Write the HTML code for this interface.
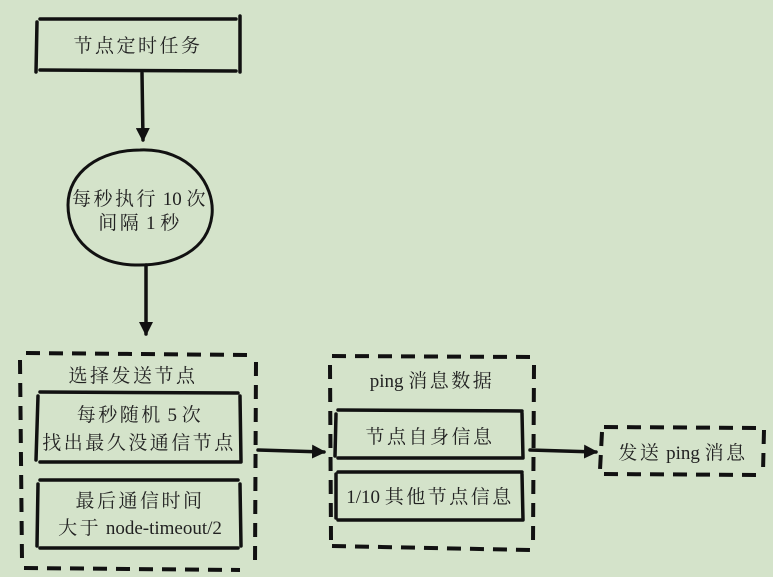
<!DOCTYPE html>
<html><head><meta charset="utf-8"><style>
html,body{margin:0;padding:0;background:#d4e3ca;}
svg{display:block}
text{font-family:"Liberation Serif","Noto Serif CJK SC",serif;font-size:19px;fill:#222;text-anchor:middle;letter-spacing:2.5px}
.l{letter-spacing:0}
</style></head><body>
<svg width="773" height="577" viewBox="0 0 773 577">
<rect width="773" height="577" fill="#d4e3ca"/>
<defs><marker id="a" markerWidth="14" markerHeight="14" refX="12" refY="7" orient="auto" markerUnits="userSpaceOnUse"><path d="M0,0 L14,7 L0,14 Z" fill="#111"/></marker></defs>
<g stroke="#111" fill="none" stroke-width="3.5" stroke-linecap="round">
<path d="M40,19 L236,19 M40,70 L236,71 M37,22 L36,72 M240,16 L240,72"/>
<path d="M142,73 L143,140" marker-end="url(#a)"/>
<path d="M146,265 L146,334" marker-end="url(#a)"/>
<path d="M258,450 L324,452" marker-end="url(#a)"/>
<path d="M530,450 L596,452" marker-end="url(#a)"/>
<path d="M140,150 C190,148 215,185 212,215 C208,250 175,266 135,265 C95,264 68,240 68,205 C68,172 100,150 140,150 Z" stroke-width="3"/>
<path d="M40,392 L238,393 M40,462 L240,462 M38,396 L36,460 M240,396 L241,462"/>
<path d="M40,480 L238,480 M40,548 L238,548 M38,484 L37,546 M240,484 L241,546"/>
<path d="M338,410 L522,411 M338,458 L522,458 M336,414 L335,456 M522,413 L523,458"/>
<path d="M338,472 L522,472 M338,520 L522,520 M336,474 L336,518 M522,474 L523,520"/>
</g>
<g stroke="#111" fill="none" stroke-width="4" stroke-dasharray="14,9">
<path d="M26,353 L248,355 M24,568 L240,570 M20,360 L22,560 M256,362 L255,565"/>
<path d="M332,356 L530,357 M332,546 L530,550 M330,365 L331,540 M534,365 L533,545"/>
<path d="M604,427 L762,428 M604,474 L762,475 M602,432 L600,470 M764,430 L763,472"/>
</g>
<text x="138" y="52">节点定时任务</text>
<text x="140" y="205">每秒执行<tspan class="l"> 10 </tspan>次</text>
<text x="140" y="229">间隔<tspan class="l"> 1 </tspan>秒</text>
<text x="133" y="382">选择发送节点</text>
<text x="140" y="421">每秒随机<tspan class="l"> 5 </tspan>次</text>
<text x="139" y="449">找出最久没通信节点</text>
<text x="140" y="507">最后通信时间</text>
<text x="140" y="534">大于<tspan class="l"> node-timeout/2</tspan></text>
<text x="432" y="387"><tspan class="l">ping </tspan>消息数据</text>
<text x="430" y="443">节点自身信息</text>
<text x="430" y="503"><tspan class="l">1/10 </tspan>其他节点信息</text>
<text x="683" y="459">发送<tspan class="l"> ping </tspan>消息</text>
</svg>
</body></html>
